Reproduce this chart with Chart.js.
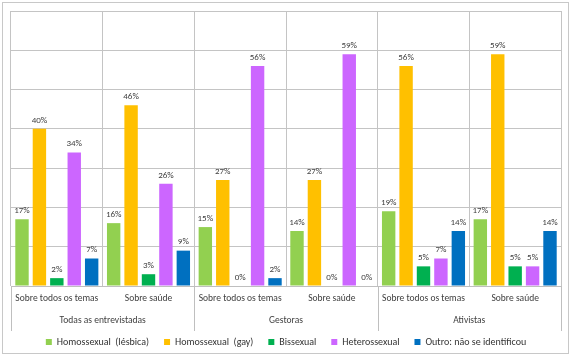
<!DOCTYPE html>
<html><head><meta charset="utf-8">
<script src="https://cdn.jsdelivr.net/npm/chart.js@4/dist/chart.umd.min.js"></script>
<style>html,body{margin:0;padding:0;background:#fff}#wrap{width:571px;height:357px;position:relative}</style>
</head><body><div id="wrap"><canvas id="c" width="571" height="357"></canvas></div>
<script>
const categories = ['Sobre todos os temas','Sobre saúde','Sobre todos os temas','Sobre saúde','Sobre todos os temas','Sobre saúde'];
const groups = ['Todas as entrevistadas','Gestoras','Ativistas'];
const lesbica = [17,16,15,14,19,17];
const gay = [40,46,27,27,56,59];
const bissexual = [2,3,0,0,5,5];
const heterossexual = [34,26,56,59,7,5];
const outro = [7,9,2,0,14,14];
const seriesNames = ['Homossexual  (lésbica)','Homossexual  (gay)','Bissexual','Heterossexual','Outro: não se identificou'];
const seriesColors = ['#92D050','#FFC000','#00B050','#CC66FF','#0070C0'];
const FONT = 'Carlito, Calibri, Lato, sans-serif';

const frame = {
  id:'frame',
  beforeDraw(chart){
    const c = chart.ctx; c.save();
    c.strokeStyle = '#c8c8c8'; c.lineWidth = 1;
    c.strokeRect(2.5,2.5,566,351);
    c.restore();
  }
};
const labelsPlugin = {
  id:'vals',
  afterDatasetsDraw(chart){
    const c = chart.ctx; c.save();
    c.font = '9px ' + FONT; c.fillStyle = '#404040'; c.textAlign='center'; c.textBaseline='bottom';
    chart.data.datasets.forEach((ds,i)=>{
      chart.getDatasetMeta(i).data.forEach((bar,j)=>{
        c.fillText(ds.data[j] + '%', bar.x, bar.y - 4);
      });
    });
    const xs = chart.scales.x, area = chart.chartArea;
    const w = (area.right - area.left) / categories.length;
    c.strokeStyle = '#bfbfbf'; c.lineWidth = 1;
    for (let k=0;k<=groups.length;k++){
      const x = Math.round(area.left + k*2*w) + 0.5;
      c.beginPath(); c.moveTo(x, area.bottom); c.lineTo(x, area.bottom + 45); c.stroke();
    }
    c.font = '9.5px ' + FONT; c.textBaseline='middle';
    groups.forEach((g,k)=>{
      const x = (xs.getPixelForValue(2*k) + xs.getPixelForValue(2*k+1))/2;
      c.fillText(g, x, area.bottom + 35);
    });
    c.restore();
  }
};

new Chart(document.getElementById('c'), {
  type:'bar',
  data:{
    labels: categories,
    datasets: [lesbica,gay,bissexual,heterossexual,outro].map((d,i)=>({
      label: seriesNames[i], data: d, backgroundColor: seriesColors[i],
      categoryPercentage: 0.95, barPercentage: 0.77
    }))
  },
  options:{
    responsive:false, animation:false, devicePixelRatio:1,
    layout:{padding:{left:11,right:10,top:11,bottom:0}},
    plugins:{
      tooltip:{enabled:false},
      legend:{position:'bottom', labels:{boxWidth:6, boxHeight:6, padding:15, color:'#333', font:{family:FONT,size:10}}}
    },
    scales:{
      y:{min:0,max:70,ticks:{stepSize:10,display:false},grid:{color:'#c4c4c4',drawTicks:false},border:{display:false}},
      x:{grid:{color:'#c4c4c4',drawTicks:false,offset:true},border:{display:true,color:'#bfbfbf'},
         ticks:{color:'#404040',padding:7,font:{family:FONT,size:9.5}},
         afterFit(s){ s.height = 36; }}
    }
  },
  plugins:[frame,labelsPlugin]
});
</script></body></html>
